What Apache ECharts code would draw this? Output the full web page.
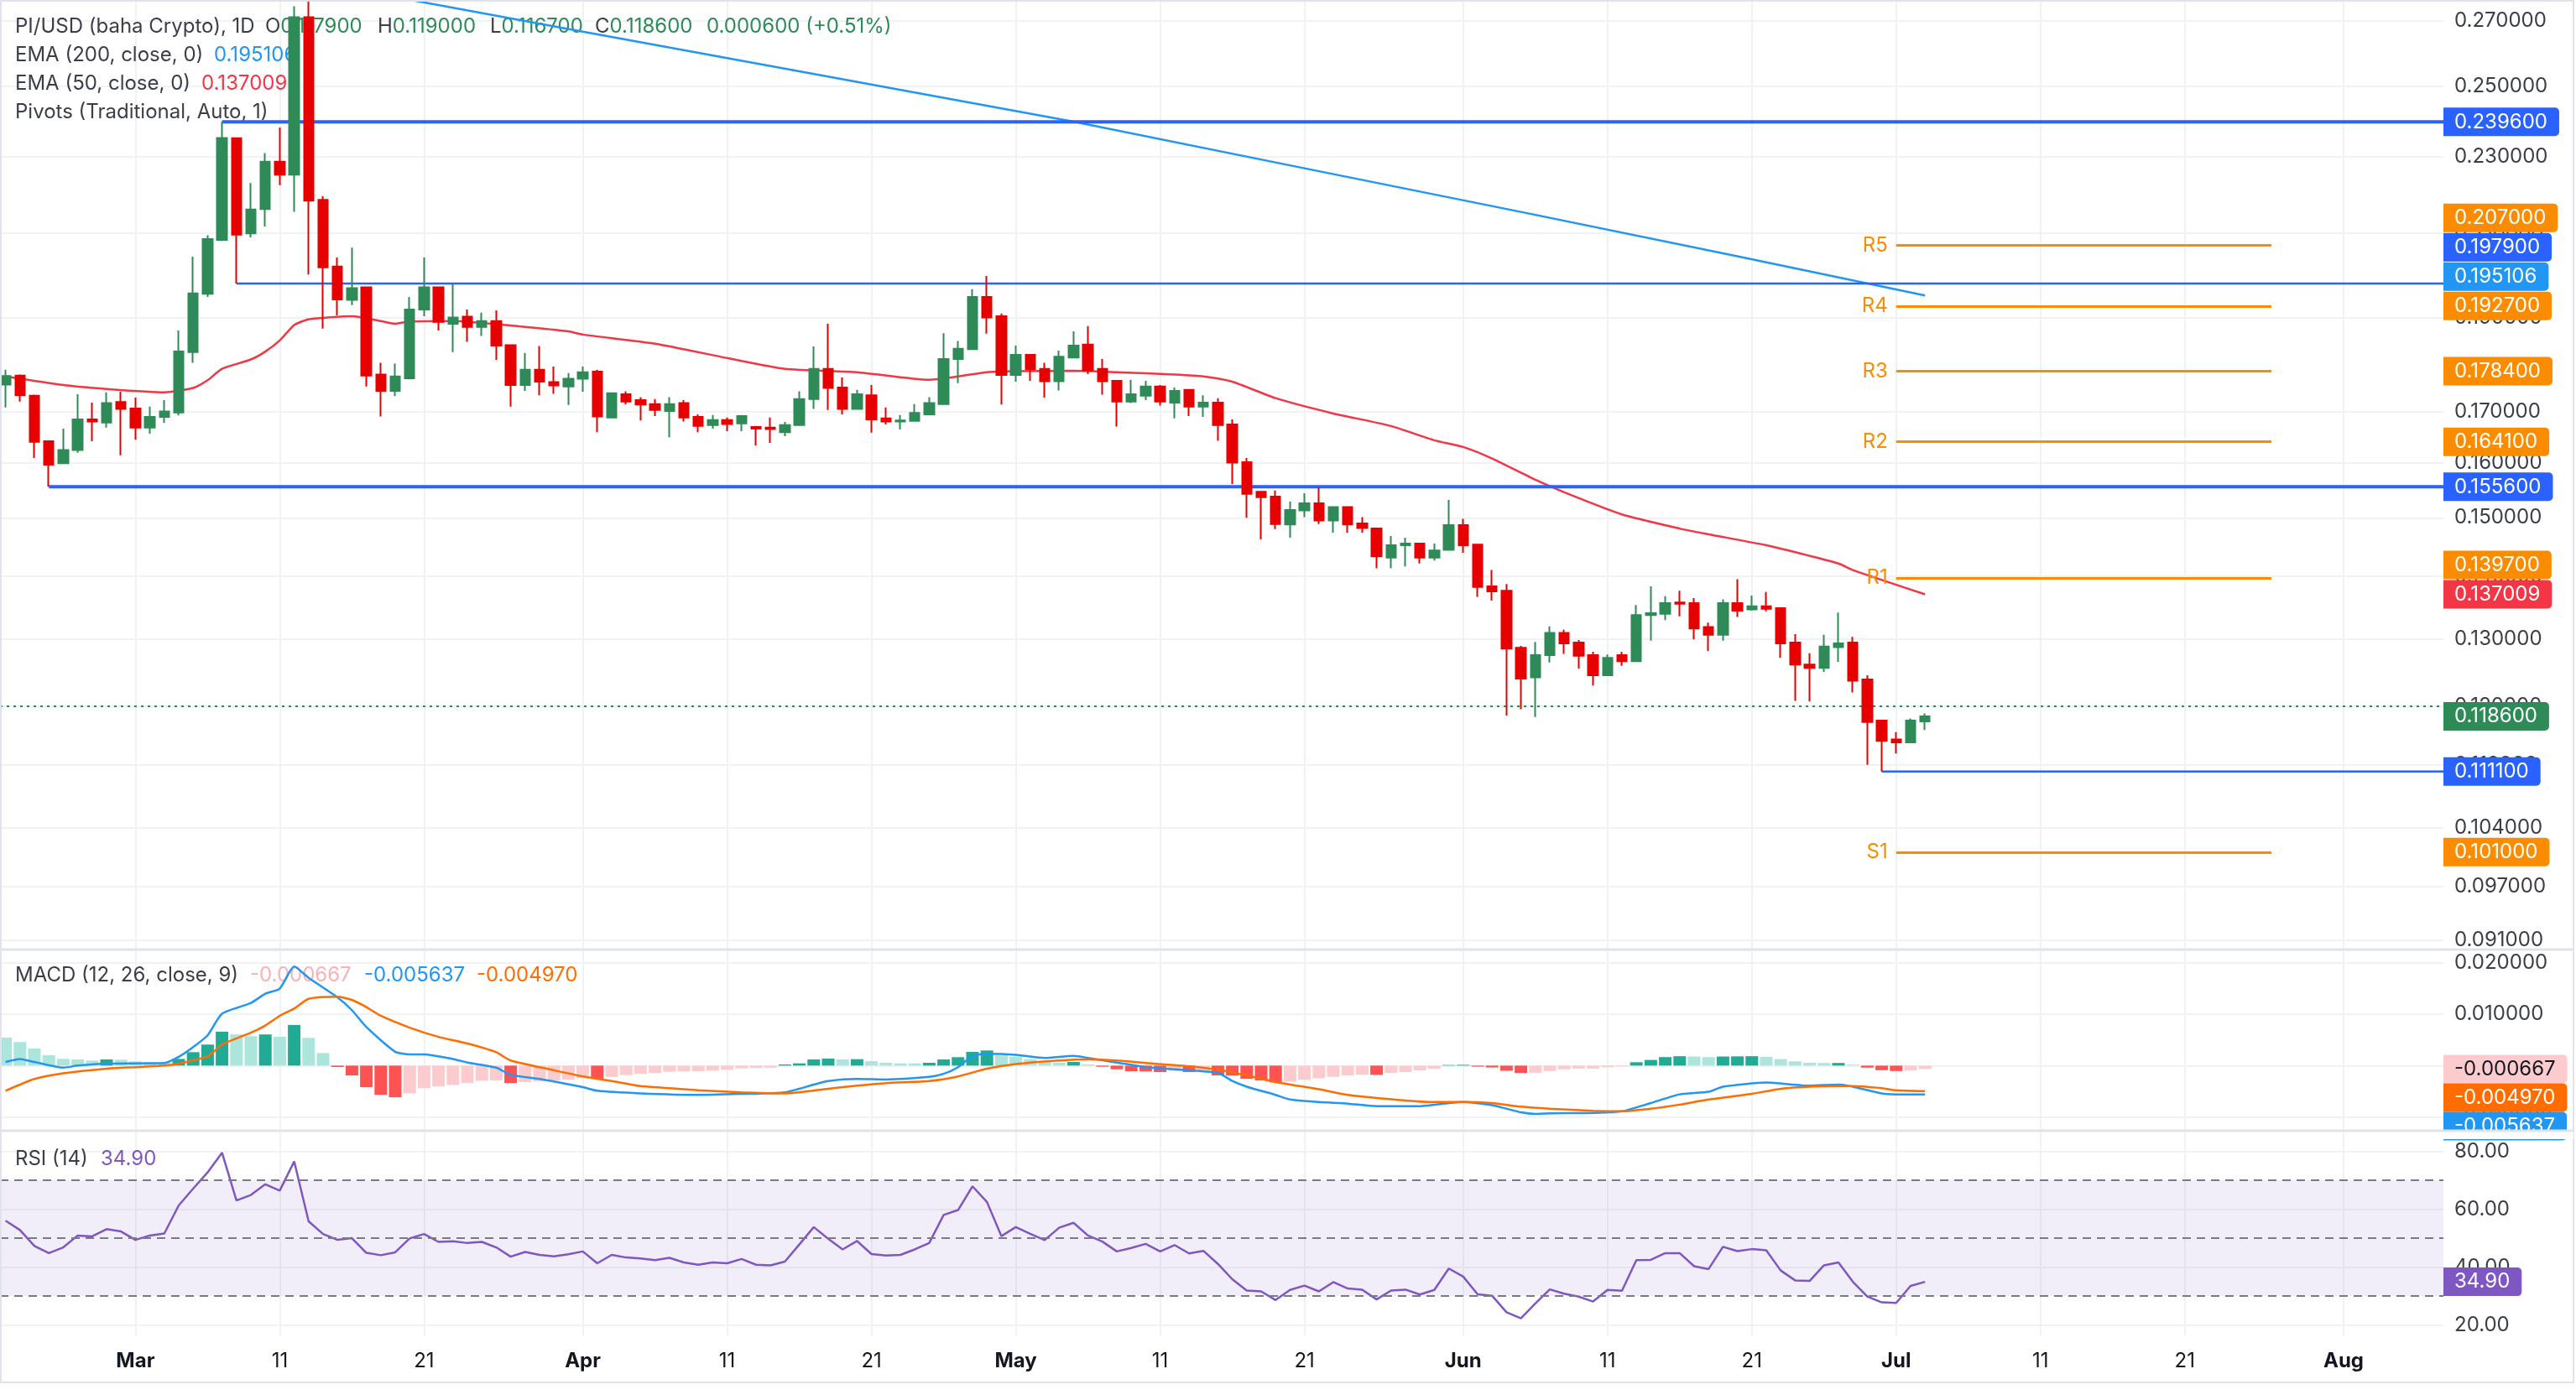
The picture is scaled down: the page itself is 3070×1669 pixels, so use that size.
<!DOCTYPE html>
<html>
<head>
<meta charset="utf-8">
<script src="https://cdn.jsdelivr.net/npm/echarts@6/dist/echarts.min.js"></script>
<style>
  html, body { margin: 0; padding: 0; background: #fff; }
  #chart { width: 3070px; height: 1669px; }
</style>
</head>
<body>
<div id="chart"></div>
<script>
// PI/USD daily, 2025-02-20 .. 2025-07-03 (bar index 0 = Feb 20)
const startDate = '2025-02-20'
const tickIdx = [9, 19, 29, 40, 50, 60, 70, 80, 90, 101, 111, 121, 131, 141, 151, 162]
const tickText = ['Mar', '11', '21', 'Apr', '11', '21', 'May', '11', '21', 'Jun', '11', '21', 'Jul', '11', '21', 'Aug']
const priceTicks = [0.27, 0.25, 0.23, 0.21, 0.19, 0.17, 0.16, 0.15, 0.14, 0.13, 0.12, 0.112, 0.104, 0.097, 0.091]
const macdTicks = [0.02, 0.01, 0, -0.01]
const rsiTicks = [80, 60, 40, 20]

// [open, high, low, close]
const ohlc = [
  [.1756,.1787,.1709,.1774],[.1775,.1777,.1721,.1734],[.1733,.1735,.1610,.1641],[.1642,.1644,.1556,.1597],[.1600,.1667,.1599,.1625],
  [.1625,.1736,.1620,.1685],[.1685,.1719,.1642,.1681],[.1679,.1740,.1669,.1718],[.1720,.1741,.1615,.1706],[.1707,.1729,.1645,.1669],
  [.1669,.1711,.1657,.1690],[.1690,.1724,.1678,.1701],[.1699,.1872,.1693,.1826],[.1825,.2043,.1802,.1956],[.1955,.2095,.1948,.2086],
  [.2084,.2396,.2081,.2351],[.2350,.2351,.1979,.2097],[.2100,.2229,.2090,.2160],[.2161,.2309,.2117,.2286],[.2286,.2380,.2223,.2251],
  [.2251,.2747,.2154,.2712],[.2712,.2765,.2000,.2183],[.2185,.2194,.1876,.2017],[.2019,.2041,.1906,.1942],[.1941,.2065,.1929,.1968],
  [.1970,.1970,.1752,.1775],[.1777,.1802,.1691,.1743],[.1743,.1800,.1732,.1773],[.1769,.1948,.1767,.1919],[.1919,.2041,.1904,.1970],
  [.1970,.1972,.1872,.1891],[.1887,.1979,.1825,.1901],[.1903,.1919,.1847,.1880],[.1880,.1912,.1860,.1893],[.1893,.1917,.1808,.1839],
  [.1840,.1841,.1711,.1755],[.1755,.1823,.1743,.1787],[.1787,.1838,.1734,.1762],[.1761,.1794,.1737,.1754],[.1752,.1780,.1714,.1768],
  [.1768,.1794,.1741,.1782],[.1783,.1787,.1660,.1691],[.1689,.1740,.1689,.1738],[.1736,.1742,.1715,.1721],[.1724,.1730,.1683,.1715],
  [.1716,.1726,.1692,.1704],[.1702,.1730,.1650,.1716],[.1718,.1724,.1681,.1689],[.1690,.1695,.1660,.1672],[.1674,.1694,.1667,.1684],
  [.1684,.1689,.1662,.1676],[.1677,.1694,.1662,.1692],[.1670,.1672,.1634,.1667],[.1669,.1689,.1639,.1666],[.1660,.1680,.1652,.1674],
  [.1674,.1742,.1672,.1726],[.1726,.1837,.1706,.1789],[.1789,.1887,.1704,.1749],[.1750,.1771,.1695,.1706],[.1706,.1745,.1705,.1736],
  [.1734,.1755,.1659,.1685],[.1687,.1709,.1675,.1681],[.1681,.1694,.1665,.1683],[.1682,.1716,.1681,.1698],[.1695,.1730,.1694,.1718],
  [.1716,.1866,.1714,.1810],[.1810,.1849,.1759,.1832],[.1831,.1966,.1830,.1948],[.1948,.1997,.1865,.1901],[.1904,.1910,.1715,.1776],
  [.1776,.1839,.1762,.1819],[.1819,.1820,.1764,.1788],[.1789,.1802,.1729,.1763],[.1763,.1828,.1744,.1815],[.1813,.1870,.1813,.1839],
  [.1841,.1882,.1778,.1786],[.1789,.1810,.1735,.1763],[.1764,.1765,.1671,.1721],[.1721,.1766,.1718,.1736],[.1733,.1764,.1724,.1752],
  [.1752,.1755,.1713,.1721],[.1719,.1750,.1687,.1743],[.1745,.1747,.1692,.1711],[.1711,.1734,.1690,.1719],[.1719,.1728,.1643,.1674],
  [.1675,.1685,.1561,.1601],[.1602,.1610,.1500,.1543],[.1547,.1548,.1462,.1537],[.1538,.1549,.1480,.1489],[.1488,.1529,.1465,.1514],
  [.1513,.1544,.1501,.1526],[.1526,.1555,.1489,.1495],[.1495,.1520,.1474,.1519],[.1519,.1520,.1474,.1488],[.1490,.1501,.1474,.1482],
  [.1481,.1482,.1413,.1433],[.1431,.1468,.1413,.1452],[.1452,.1465,.1416,.1455],[.1455,.1456,.1421,.1431],[.1431,.1455,.1426,.1443],
  [.1444,.1532,.1443,.1487],[.1487,.1498,.1439,.1452],[.1453,.1454,.1366,.1382],[.1383,.1410,.1360,.1375],[.1376,.1387,.1187,.1285],
  [.1286,.1289,.1196,.1240],[.1242,.1295,.1185,.1275],[.1275,.1319,.1264,.1309],[.1309,.1314,.1277,.1293],[.1294,.1298,.1255,.1274],
  [.1275,.1280,.1230,.1245],[.1245,.1276,.1245,.1271],[.1275,.1280,.1259,.1266],[.1266,.1353,.1266,.1337],[.1337,.1383,.1297,.1340],
  [.1339,.1367,.1329,.1356],[.1357,.1376,.1335,.1355],[.1356,.1364,.1299,.1316],[.1318,.1325,.1281,.1306],[.1306,.1362,.1297,.1356],
  [.1356,.1395,.1334,.1344],[.1346,.1368,.1344,.1351],[.1351,.1374,.1343,.1347],[.1348,.1349,.1271,.1293],[.1294,.1307,.1208,.1261],
  [.1261,.1278,.1207,.1256],[.1256,.1306,.1250,.1288],[.1287,.1341,.1265,.1293],[.1294,.1303,.1220,.1237],[.1239,.1245,.1120,.1178],
  [.1180,.1181,.1111,.1152],[.1154,.1164,.1135,.1150],[.1150,.1183,.1149,.1180],[.1179,.1190,.1167,.1186]
]

// [bar index, value]
const ema50 = [[0,.1773],[4,.1755],[7,.1747],[11,.1740],[13,.1749],[14,.1765],[15,.1789],[17,.1809],[18,.1826],[19,.1850],
  [20,.1884],[21,.1897],[24,.1904],[26,.1893],[27,.1887],[28,.1892],[31,.1893],[36,.1880],[39,.1870],[40,.1863],[45,.1843],
  [50,.1812],[54,.1789],[59,.1782],[64,.1766],[66,.1773],[68,.1782],[70,.1784],[74,.1785],[77,.1782],[81,.1777],[83,.1773],
  [85,.1762],[88,.1728],[92,.1697],[96,.1672],[99,.1644],[101,.1631],[103,.1609],[106,.1569],[108,.1546],[112,.1506],
  [116,.1481],[118,.1471],[122,.1452],[125,.1434],[127,.1421],[128,.1410],[133,.137009]]
const ema200 = [[26,.2786],[40,.2666],[55,.2544],[74,.2397],[90,.2268],[105,.2154],[120,.2044],[133,.195106]]

const macdHist = [.00546,.00459,.00333,.00202,.00131,.00120,.00098,.00120,.00115,.00082,
  .00066,.00055,.00131,.00262,.00410,.00661,.00607,.00574,.00607,.00563,
  .00792,.00541,.00246,-.00027,-.00191,-.00421,-.00568,-.00617,-.00541,-.00437,
  -.00404,-.00377,-.00339,-.00295,-.00290,-.00339,-.00322,-.00306,-.00290,-.00273,
  -.00240,-.00255,-.00220,-.00185,-.00162,-.00145,-.00120,-.00115,-.00109,-.00098,
  -.00082,-.00055,-.00044,-.00040,.00022,.00044,.00120,.00137,.00120,.00125,
  .00087,.00055,.00044,.00043,.00055,.00120,.00164,.00268,.00295,.00202,
  .00175,.00126,.00082,.00055,.00071,.00022,-.00022,-.00071,-.00109,-.00112,
  -.00126,-.00104,-.00126,-.00115,-.00191,-.00195,-.00257,-.00290,-.00328,-.00311,
  -.00273,-.00246,-.00219,-.00191,-.00175,-.00180,-.00142,-.00126,-.00093,-.00063,
  .00012,.00016,-.00020,-.00036,-.00100,-.00144,-.00140,-.00105,-.00072,-.00061,
  -.00058,-.00033,-.00017,.00066,.00111,.00166,.00183,.00177,.00166,.00177,
  .00180,.00183,.00172,.00127,.00083,.00055,.00050,.00052,.00017,-.00039,
  -.00089,-.00105,-.00094,-.000667]
const macdLine = [[0,.0007],[1,.0013],[2,.0007],[4,-.0004],[5,0],[7,.0004],[11,.0005],[12,.0017],[13,.0036],[14,.0059],
  [15,.0101],[17,.0122],[18,.0140],[19,.0150],[20,.0193],[21,.0171],[23,.0133],[24,.0108],[25,.0075],[27,.0027],[28,.0022],
  [29,.0022],[31,.0013],[32,.0006],[34,-.0004],[35,-.0018],[37,-.0026],[40,-.0042],[41,-.0049],[44,-.0054],[48,-.0057],
  [51,-.0055],[54,-.0052],[56,-.0037],[57,-.0030],[59,-.0026],[61,-.0027],[64,-.0022],[65,-.0016],[66,-.0003],[67,.0019],
  [68,.0023],[70,.0021],[72,.0015],[74,.0019],[75,.0015],[77,.0006],[79,-.0003],[81,-.0007],[84,-.0014],[85,-.0030],
  [86,-.0041],[88,-.0057],[89,-.0066],[91,-.0071],[93,-.0074],[95,-.0079],[98,-.0079],[100,-.0073],[101,-.0071],[103,-.0077],
  [105,-.0091],[106,-.0094],[107,-.0093],[110,-.0092],[112,-.0089],[114,-.0073],[116,-.0056],[118,-.0051],[119,-.0041],
  [122,-.0033],[125,-.0039],[127,-.0037],[128,-.0041],[130,-.0054],[131,-.0056],[133,-.005637]]
const signalLine = [[0,-.0049],[1,-.0037],[2,-.0026],[4,-.0015],[7,-.0006],[9,-.0003],[11,0],[12,.0004],[14,.0018],[15,.0041],
  [17,.0064],[18,.0078],[19,.0097],[20,.0111],[21,.0130],[23,.0134],[24,.0128],[25,.0114],[26,.0097],[28,.0074],[30,.0056],
  [32,.0043],[34,.0026],[35,.0010],[38,-.0009],[40,-.0021],[42,-.0030],[44,-.0040],[46,-.0044],[48,-.0048],[51,-.0052],
  [54,-.0054],[57,-.0045],[59,-.0039],[61,-.0034],[64,-.0030],[66,-.0021],[68,-.0006],[70,.0003],[73,.0010],[75,.0012],
  [77,.0010],[79,.0005],[82,-.0001],[84,-.0008],[86,-.0019],[88,-.0032],[91,-.0046],[93,-.0057],[97,-.0068],[99,-.0071],
  [101,-.0071],[103,-.0073],[105,-.0080],[107,-.0084],[110,-.0088],[112,-.0089],[114,-.0084],[116,-.0076],[118,-.0066],
  [121,-.0055],[123,-.0045],[125,-.0041],[128,-.0040],[130,-.0044],[131,-.0048],[133,-.00497]]

const rsi = [56.0,52.8,47.3,44.8,46.8,50.9,50.6,53.1,52.3,49.4,
  50.9,51.6,61.3,67.1,72.7,79.5,63.0,64.9,68.6,66.4,
  76.5,55.8,51.4,49.4,50.0,44.9,44.1,45.1,49.9,51.4,
  48.7,48.9,48.3,48.7,46.8,43.6,45.2,44.2,43.7,44.4,
  45.4,41.3,44.2,43.3,43.0,42.4,43.2,41.6,40.8,41.6,
  41.3,42.8,40.8,40.6,41.9,47.8,53.8,49.8,46.1,49.0,
  44.5,44.0,44.2,46.1,48.3,58.0,59.7,67.9,62.5,50.7,
  53.8,51.5,49.3,53.6,55.3,50.9,48.8,45.4,46.6,48.0,
  45.4,47.6,44.7,45.6,41.1,35.8,31.9,31.6,28.6,32.1,
  33.6,31.6,34.8,32.6,32.2,28.8,31.9,32.2,30.5,32.1,
  39.5,36.7,30.6,30.1,24.4,22.3,27.4,32.3,30.8,29.8,
  28.1,32.1,31.8,42.4,42.5,44.8,44.8,40.3,39.3,47.0,
  45.5,46.2,45.8,38.8,35.4,35.2,40.6,41.6,34.9,29.8,
  27.8,27.6,33.5,34.9]

// pivots (Traditional), drawn over the current period
const pivotNames = ['R5', 'R4', 'R3', 'R2', 'R1', 'S1']
const pivotValues = [.2070, .1927, .1784, .1641, .1397, .1010]
const pivotFrom = 131
const pivotTo = 157
// horizontal levels: start bar and price
const levelStart = [15, 16, 3, 130]
const levelValue = [.2396, .1979, .1556, .1111]

// ---------------------------------------------------------------------------
const FONT = 'Inter, "Noto Sans", sans-serif'
const DARK = '#131722'
const LABEL = '#3b3e48'
const GRIDC = '#f0f2f6'
const UP = '#2e8b57'
const DOWN = '#e60000'
const BLUE = '#2962ff'
const ORANGE = '#fb8c00'
const XMIN = -0.384
const XMAX = 168.92
const levelWidth = [4, 2.5, 4, 2.5]

const chart = echarts.init(document.getElementById('chart'))

const xAxisFor = (grid, labels) => ({
  type: 'value', gridIndex: grid, min: XMIN, max: XMAX,
  axisLine: { show: false },
  axisTick: { show: false, customValues: tickIdx },
  splitLine: { show: true, lineStyle: { color: GRIDC, width: 2 } },
  axisLabel: labels ? {
    customValues: tickIdx, margin: 19,
    formatter: v => {
      const t = tickText[tickIdx.indexOf(Math.round(v))] || ''
      return /^[A-Z]/.test(t) ? '{m|' + t + '}' : '{d|' + t + '}'
    },
    rich: {
      m: { fontSize: 24, fontWeight: 'bold', color: DARK, fontFamily: FONT },
      d: { fontSize: 24, color: DARK, fontFamily: FONT }
    }
  } : { show: false }
})

const yAxisFor = (grid, type, min, max, ticks, digits) => ({
  type, gridIndex: grid, position: 'right', min, max, scale: true,
  axisLine: { show: false },
  axisTick: { show: false, customValues: ticks },
  splitLine: { show: true, lineStyle: { color: GRIDC, width: 2 } },
  axisLabel: {
    customValues: ticks, margin: 13, color: LABEL, fontSize: 24, fontFamily: FONT,
    formatter: v => Number(v).toFixed(digits)
  }
})

const candles = ohlc.map((d, i) => [i, d[0], d[3], d[2], d[1]])
const lastClose = ohlc[ohlc.length - 1][3]

const histColor = p => {
  const i = p.dataIndex
  const v = macdHist[i]
  const prev = i > 0 ? macdHist[i - 1] : Infinity
  if (v >= 0) return v > prev ? '#22ab94' : '#ace5dc'
  return v < prev ? '#ff5252' : '#fccbcd'
}

const series = [
  {
    type: 'line', name: 'EMA200', xAxisIndex: 0, yAxisIndex: 0, data: ema200,
    symbol: 'none', lineStyle: { color: '#2196f3', width: 2.5 }, z: 3
  },
  {
    type: 'line', name: 'EMA50', xAxisIndex: 0, yAxisIndex: 0, data: ema50,
    symbol: 'none', smooth: 0.2, lineStyle: { color: '#f23645', width: 2.5 }, z: 3
  },
  ...levelValue.map((v, k) => ({
    type: 'line', xAxisIndex: 0, yAxisIndex: 0, data: [[levelStart[k], v], [XMAX, v]],
    symbol: 'none', lineStyle: { color: BLUE, width: levelWidth[k] }, z: 4
  })),
  {
    type: 'candlestick', name: 'PI/USD', xAxisIndex: 0, yAxisIndex: 0, data: candles,
    encode: { x: 0, y: [1, 2, 3, 4] }, barWidth: 12, z: 6,
    itemStyle: { color: UP, color0: DOWN, borderColor: UP, borderColor0: DOWN, borderWidth: 2 },
    markLine: {
      silent: true, symbol: ['none', 'none'], animation: false,
      data: [
        { yAxis: lastClose, lineStyle: { color: UP, type: [3, 5], width: 2 }, label: { show: false } },
        ...pivotValues.map((v, k) => [
          { coord: [pivotFrom, v], name: pivotNames[k] },
          { coord: [pivotTo, v] }
        ])
      ],
      lineStyle: { color: ORANGE, width: 3, type: 'solid' },
      label: { show: true, position: 'start', formatter: '{b}', color: ORANGE, fontSize: 24, fontFamily: FONT, distance: 10 }
    }
  },
  {
    type: 'bar', name: 'Histogram', xAxisIndex: 1, yAxisIndex: 1,
    data: macdHist.map((v, i) => [i, v]), barWidth: 15,
    itemStyle: { color: histColor }
  },
  {
    type: 'line', name: 'MACD', xAxisIndex: 1, yAxisIndex: 1, data: macdLine,
    symbol: 'none', smooth: 0.2, lineStyle: { color: '#2196f3', width: 2.5 }, z: 3
  },
  {
    type: 'line', name: 'Signal', xAxisIndex: 1, yAxisIndex: 1, data: signalLine,
    symbol: 'none', smooth: 0.2, lineStyle: { color: '#ff6d00', width: 2.5 }, z: 3
  },
  {
    type: 'line', name: 'RSI', xAxisIndex: 2, yAxisIndex: 2, data: rsi.map((v, i) => [i, v]),
    symbol: 'none', lineStyle: { color: '#7e57c2', width: 2.5 }, z: 4,
    markArea: {
      silent: true,
      itemStyle: { color: 'rgba(126, 87, 194, 0.1)' },
      data: [[{ yAxis: 70 }, { yAxis: 30 }]]
    },
    markLine: {
      silent: true, symbol: ['none', 'none'], label: { show: false },
      lineStyle: { color: '#787b86', type: [10, 7], width: 2 },
      data: [{ yAxis: 70 }, { yAxis: 50 }, { yAxis: 30 }]
    }
  }
]

const legendText = (id, x, y, parts) => ({
  type: 'text', id, x, y, z: 1, silent: true,
  style: {
    text: parts.map((p, k) => '{s' + k + '|' + p[0] + '}').join(''),
    rich: Object.fromEntries(parts.map((p, k) => ['s' + k, { fill: p[1], font: '24px ' + FONT }])),
    font: '24px ' + FONT, verticalAlign: 'middle'
  }
})

const legend = [
  legendText('lg0', 18, 32, [['PI/USD (baha Crypto), 1D', LABEL]]),
  legendText('lg1', 316, 32, [['O', LABEL], ['0.117900', UP]]),
  legendText('lg2', 450, 32, [['H', LABEL], ['0.119000', UP]]),
  legendText('lg3', 584, 32, [['L', LABEL], ['0.116700', UP]]),
  legendText('lg4', 709, 32, [['C', LABEL], ['0.118600', UP]]),
  legendText('lg5', 842, 32, [['0.000600 (+0.51%)', UP]]),
  legendText('lg6', 18, 66, [['EMA (200, close, 0)', LABEL]]),
  legendText('lg7', 255, 66, [['0.195106', '#2196f3']]),
  legendText('lg8', 18, 100, [['EMA (50, close, 0)', LABEL]]),
  legendText('lg9', 240, 100, [['0.137009', '#f23645']]),
  legendText('lg10', 18, 134, [['Pivots (Traditional, Auto, 1)', LABEL]]),
  legendText('lg11', 18, 1163, [['MACD (12, 26, close, 9)', LABEL]]),
  legendText('lg12', 298, 1163, [['-0.000667', '#f7b3b7']]),
  legendText('lg13', 434, 1163, [['-0.005637', '#2196f3']]),
  legendText('lg14', 568, 1163, [['-0.004970', '#ff6d00']]),
  legendText('lg15', 18, 1382, [['RSI (14)', LABEL]]),
  legendText('lg16', 120, 1382, [['34.90', '#7e57c2']]),
  { type: 'rect', id: 'frame', z: 50, silent: true, shape: { x: 1, y: 1, width: 3066, height: 1647 },
    style: { fill: 'none', stroke: '#e0e3eb', lineWidth: 2 } },
  // keeps the MACD price-scale tags inside their pane
  { type: 'rect', id: 'cut', z: 101, silent: true, shape: { x: 2912, y: 1348, width: 155, height: 10 },
    style: { fill: '#ffffff' } },
  { type: 'line', id: 'sep1', z: 102, silent: true, shape: { x1: 0, y1: 1132, x2: 3068, y2: 1132 },
    style: { stroke: '#e0e3eb', lineWidth: 3 } },
  { type: 'line', id: 'sep2', z: 102, silent: true, shape: { x1: 0, y1: 1348, x2: 3068, y2: 1348 },
    style: { stroke: '#e0e3eb', lineWidth: 3 } }
]

chart.setOption({
  animation: false,
  backgroundColor: '#ffffff',
  grid: [
    { left: 0, right: 158, top: 0, height: 1131 },
    { left: 0, right: 158, top: 1133, height: 214 },
    { left: 0, right: 158, top: 1349, height: 243 }
  ],
  xAxis: [xAxisFor(0, false), xAxisFor(1, false), xAxisFor(2, true)],
  yAxis: [
    Object.assign(yAxisFor(0, 'log', 0.09009, 0.27677, priceTicks, 6), { logBase: 10 }),
    yAxisFor(1, 'value', -0.01252, 0.02244, macdTicks, 6),
    yAxisFor(2, 'value', 16.38, 86.81, rsiTicks, 2)
  ],
  series,
  graphic: legend
})

// price-scale tags, stacked so they do not overlap (as the source chart does)
function tags(list, axis, dir, digits, prefix, H) {
  const items = list.map(t => Object.assign({}, t, { y: chart.convertToPixel({ yAxisIndex: axis }, t.v) }))
  if (dir === 'up') {
    items.sort((a, b) => b.y - a.y)
    for (let k = 1; k < items.length; k++) items[k].y = Math.min(items[k].y, items[k - 1].y - H)
  } else {
    items.sort((a, b) => a.y - b.y)
    for (let k = 1; k < items.length; k++) items[k].y = Math.max(items[k].y, items[k - 1].y + H)
  }
  return items.map((t, k) => ({
    type: 'text', id: prefix + k, x: 2912, y: t.y, z: 100, silent: true,
    style: {
      text: t.v.toFixed(digits), fill: t.fg || '#ffffff', font: '24px ' + FONT,
      backgroundColor: t.bg, padding: [5, 14, 5, 13], lineHeight: 24,
      borderRadius: [0, 5, 5, 0], verticalAlign: 'middle', align: 'left'
    }
  }))
}

const priceTags = [
  { v: levelValue[0], bg: BLUE }, { v: levelValue[1], bg: BLUE }, { v: levelValue[2], bg: BLUE }, { v: levelValue[3], bg: BLUE },
  ...pivotValues.map(v => ({ v, bg: ORANGE })),
  { v: ema200[ema200.length - 1][1], bg: '#2196f3' },
  { v: ema50[ema50.length - 1][1], bg: '#f23645' },
  { v: lastClose, bg: UP }
]
const macdTags = [
  { v: macdHist[macdHist.length - 1], bg: '#fccbcd', fg: DARK },
  { v: signalLine[signalLine.length - 1][1], bg: '#ff6d00' },
  { v: macdLine[macdLine.length - 1][1], bg: '#2196f3' }
]
const rsiTags = [{ v: rsi[rsi.length - 1], bg: '#7e57c2' }]

chart.setOption({
  graphic: [
    ...tags(priceTags, 0, 'up', 6, 'pt', 35),
    ...tags(macdTags, 1, 'down', 6, 'mt', 34),
    ...tags(rsiTags, 2, 'up', 2, 'rt', 35)
  ]
})
</script>
</body>
</html>
